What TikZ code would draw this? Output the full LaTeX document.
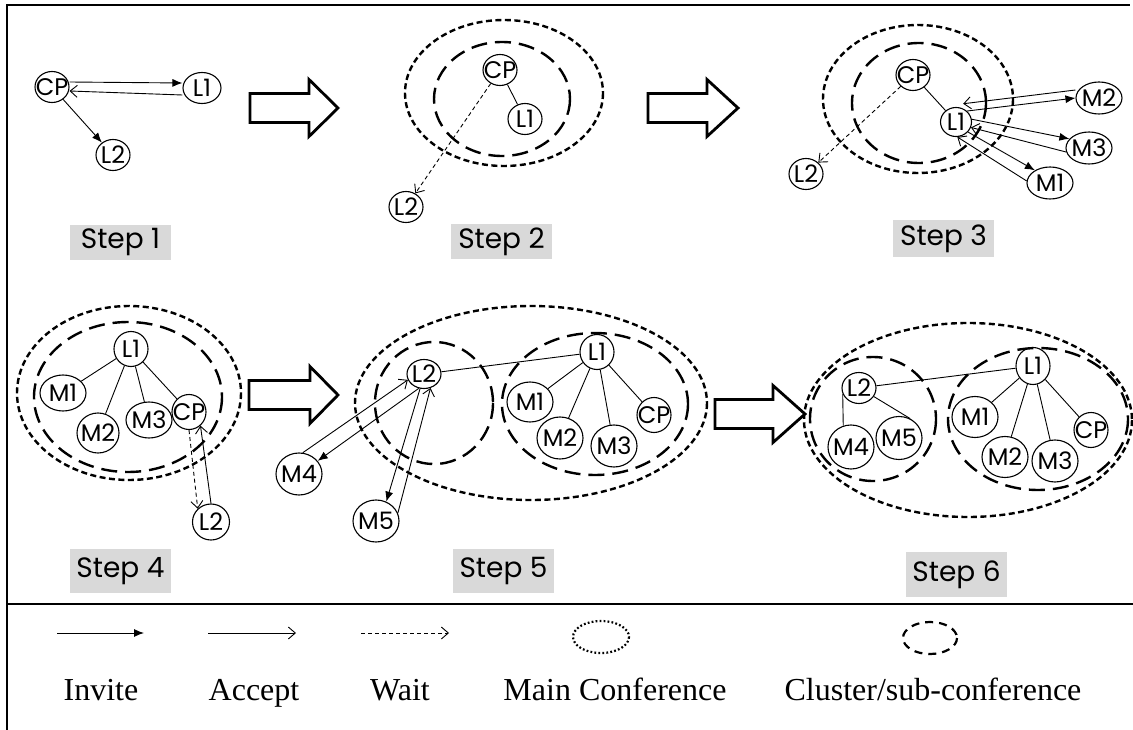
\documentclass[tikz,border=0pt]{standalone}
\usepackage{fontspec}
\setmainfont{Liberation Serif}
\newfontfamily\geofam{Poppins}
\usetikzlibrary{arrows.meta,shapes.geometric}
\definecolor{stepgray}{HTML}{D9D9D9}
\newcommand\ndfont{\geofam\fontsize{24}{26}\selectfont}
\newcommand\stfont{\geofam\fontsize{28}{30}\selectfont}
\newcommand\lgfont{\fontsize{32}{36}\selectfont}
\newcommand\blkarrow[4]{% x0, x1, x2, cy
  \draw[blockarrow] (#1,#4-14.5) -- (#2,#4-14.5) -- (#2,#4-28.5) -- (#3,#4)
    -- (#2,#4+28.5) -- (#2,#4+14.5) -- (#1,#4+14.5) -- cycle;}
\tikzset{
  nd/.style={ellipse, draw, line width=1.1pt, inner xsep=-6pt, inner ysep=0pt,
    minimum width=34pt, minimum height=31pt, font=\ndfont},
  mnd/.style={nd, minimum width=46pt, minimum height=36pt},
  invite/.style={line width=0.9pt, -{Latex[length=10pt,width=8pt]}},
  accept/.style={line width=0.9pt, -{Straight Barb[length=7pt,width=12pt]}},
  wait/.style={line width=0.9pt, dash pattern=on 4pt off 3pt, -{Straight Barb[length=7pt,width=12pt]}},
  link/.style={line width=0.9pt},
  mainconf/.style={line width=2.4pt, dash pattern=on 6pt off 3.5pt},
  cluster/.style={line width=2.4pt, dash pattern=on 16pt off 8pt},
  blockarrow/.style={draw, line width=2.8pt, fill=white, line join=miter},
  steplabel/.style={fill=stepgray, font=\stfont, minimum width=101pt, inner sep=0pt},
  legtext/.style={font=\lgfont, anchor=base},
}
\begin{document}
\begin{tikzpicture}[x=1pt,y=-1pt]
\useasboundingbox (0,0) rectangle (1133,730);
% frame
\draw[line width=1.6pt] (7,730) -- (7,5) -- (1130,5);
\draw[line width=1.6pt] (7,604) -- (1133,604);

% ---------- Step 1
\node[nd] (a-cp) at (52,87) {CP};
\node[nd, minimum width=38pt] (a-l1) at (202,88) {L1};
\node[nd] (a-l2) at (113,155) {L2};
\draw[invite] ([yshift=5pt]a-cp.east) -- ([yshift=5pt]a-l1.west);
\draw[accept] ([yshift=-7pt]a-l1.west) -- ([yshift=-4pt]a-cp.east);
\draw[invite] (a-cp) -- (a-l2);
\node[steplabel, minimum height=35pt] (s1) at (120.5,242.5) {Step 1};
\blkarrow{250}{309}{338}{108}

% ---------- Step 2
\draw[mainconf] (504,93) ellipse [x radius=99, y radius=73];
\draw[cluster] (502,99) ellipse [x radius=68, y radius=57];
\node[nd] (b-cp) at (500,70) {CP};
\node[nd] (b-l1) at (525,119) {L1};
\node[nd] (b-l2) at (406,207) {L2};
\draw[link] (b-cp) -- (b-l1);
\draw[wait] (b-cp) -- (b-l2);
\node[steplabel, minimum height=35pt] (s2) at (501.5,241.5) {Step 2};
\blkarrow{648}{707}{738}{108}

% ---------- Step 3
\draw[mainconf] (918,99) ellipse [x radius=95, y radius=74];
\draw[cluster] (919,103) ellipse [x radius=67, y radius=60];
\node[nd] (c-cp) at (913,75) {CP};
\node[nd, minimum width=31pt, minimum height=29pt] (c-l1) at (956,122) {L1};
\node[nd] (c-l2) at (806,174) {L2};
\node[mnd, minimum height=32pt] (c-m2) at (1099,98) {M2};
\node[mnd, minimum height=32pt] (c-m3) at (1089,148) {M3};
\node[mnd, minimum height=32pt] (c-m1) at (1050,183) {M1};
\draw[link] (c-cp) -- (c-l1);
\draw[wait] (c-cp) -- (c-l2);
\draw[invite] (c-l1.45) -- (c-m2.west);
\draw[accept] ([yshift=8pt]c-m2.west) -- ([xshift=2pt,yshift=4pt]c-l1.70);
\draw[invite] (c-l1.10) -- (c-m3.155);
\draw[accept] (c-m3.190) -- (c-l1.-20);
\draw[invite] (c-l1.-40) -- (c-m1.140);
\draw[accept] (c-m1.175) -- (c-l1.-85);
\node[steplabel, minimum height=37pt] (s3) at (943.5,238.5) {Step 3};

% ---------- Step 4
\draw[mainconf] (129,393) ellipse [x radius=112, y radius=87];
\draw[cluster] (128,397) ellipse [x radius=94, y radius=75];
\node[nd, minimum height=35pt] (d-l1) at (131,349) {L1};
\node[mnd] (d-m1) at (63,393) {M1};
\node[mnd, minimum width=42pt, minimum height=40pt] (d-m2) at (98,433) {M2};
\node[mnd, minimum height=36pt] (d-m3) at (149,420) {M3};
\node[nd, minimum height=35pt] (d-cp) at (189,412) {CP};
\node[nd, minimum width=37pt, minimum height=36pt] (d-l2) at (211,522) {L2};
\draw[link] (d-l1) -- (d-m1);
\draw[link] (d-l1) -- (d-m2);
\draw[link] (d-l1) -- (d-m3);
\draw[link] (d-l1) -- (d-cp);
\draw[wait] (d-cp.south) -- (d-l2.135);
\draw[accept] (d-l2.north) -- (d-cp.-50);
\node[steplabel, minimum height=44pt] (s4) at (120.5,571) {Step 4};
\blkarrow{249}{310}{338}{395}

% ---------- Step 5
\draw[mainconf] (531,403) ellipse [x radius=176, y radius=97];
\draw[cluster] (434,403) ellipse [x radius=59, y radius=61];
\draw[cluster] (595,404) ellipse [x radius=93, y radius=71];
\node[nd, minimum height=29pt] (e-l2) at (424,374) {L2};
\node[nd, minimum height=35pt] (e-l1) at (597,352) {L1};
\node[mnd, minimum height=40pt] (e-m1) at (530,402) {M1};
\node[mnd, minimum height=42pt] (e-m2) at (560,438) {M2};
\node[mnd, minimum height=42pt] (e-m3) at (614,446) {M3};
\node[nd, minimum height=35pt] (e-cp) at (654,415) {CP};
\node[mnd, minimum height=42pt] (e-m4) at (299,474) {M4};
\node[mnd, minimum height=42pt] (e-m5) at (376,521) {M5};
\draw[link] (e-l2) -- (e-l1);
\draw[link] (e-l1) -- (e-m1);
\draw[link] (e-l1) -- (e-m2);
\draw[link] (e-l1) -- (e-m3);
\draw[link] (e-l1) -- (e-cp);
\draw[accept] (e-m4.80) -- (e-l2.200);
\draw[invite] (e-l2.-110) -- (e-m4.35);
\draw[invite] (e-l2.-105) -- (e-m5.62);
\draw[accept] (e-m5.20) -- (e-l2.-65);
\node[steplabel, minimum height=44pt] (s5) at (503.5,571) {Step 5};
\blkarrow{715}{773}{805}{414}

% ---------- Step 6
\draw[mainconf] (968,420) ellipse [x radius=164, y radius=97];
\draw[cluster] (873,419) ellipse [x radius=63, y radius=62];
\draw[cluster] (1038,419) ellipse [x radius=90, y radius=71];
\node[nd] (f-l2) at (859,388) {L2};
\node[mnd, minimum height=44pt] (f-m4) at (851,447) {M4};
\node[mnd, minimum height=43pt] (f-m5) at (899,438) {M5};
\node[nd, minimum height=37pt] (f-l1) at (1033,366) {L1};
\node[mnd, minimum height=41pt] (f-m1) at (975,417) {M1};
\node[mnd, minimum height=41pt] (f-m2) at (1005,457) {M2};
\node[mnd, minimum height=42pt] (f-m3) at (1055,461) {M3};
\node[nd, minimum height=35pt] (f-cp) at (1091,430) {CP};
\draw[link] (f-l2) -- (f-l1);
\draw[link] (f-l2.200) -- (f-m4.110);
\draw[link] (f-l2.-30) -- (f-m5.60);
\draw[link] (f-l1) -- (f-m1);
\draw[link] (f-l1) -- (f-m2);
\draw[link] (f-l1) -- (f-m3);
\draw[link] (f-l1) -- (f-cp);
\node[steplabel, minimum height=45pt] (s6) at (956.5,574.5) {Step 6};

% ---------- Legend
\coordinate (li1) at (57,633);  \coordinate (li2) at (144,633);
\coordinate (la1) at (208,633); \coordinate (la2) at (296,633);
\coordinate (lw1) at (361,633); \coordinate (lw2) at (449,633);
\draw[invite] (li1) -- (li2);
\draw[accept] (la1) -- (la2);
\draw[wait] (lw1) -- (lw2);
\draw[line width=2.2pt, dash pattern=on 1.8pt off 2.2pt] (601,637) ellipse [x radius=28, y radius=16];
\draw[line width=2.2pt, dash pattern=on 8pt off 6pt] (930,638) ellipse [x radius=27, y radius=16];
\node[legtext] (t-inv) at (101,700) {Invite};
\node[legtext] (t-acc) at (254,700) {Accept};
\node[legtext] (t-wait) at (400,700) {Wait};
\node[legtext] (t-main) at (615,700) {Main Conference};
\node[legtext] (t-clu) at (933,700) {Cluster/sub-conference};
\end{tikzpicture}
\end{document}
